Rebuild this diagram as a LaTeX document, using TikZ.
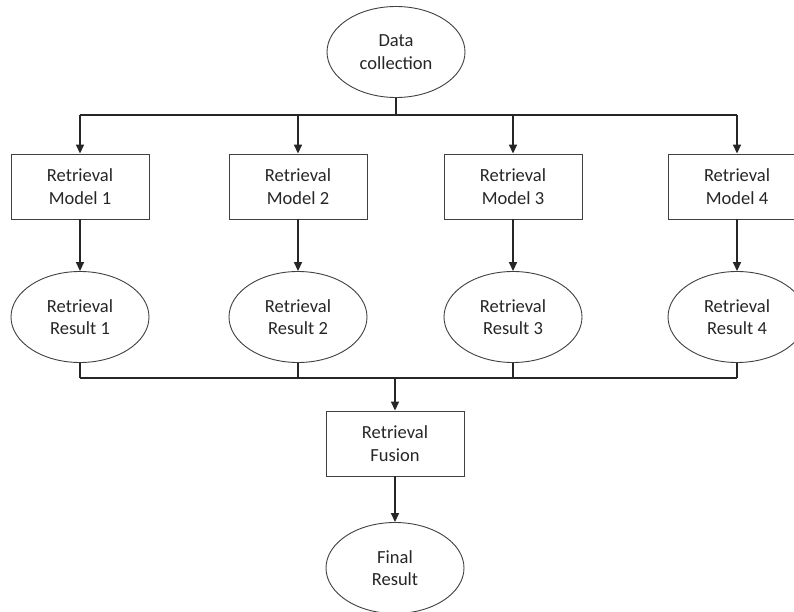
\documentclass[tikz,border=0pt]{standalone}
\usepackage{fontspec}
\setmainfont{Carlito}
\usetikzlibrary{arrows.meta,shapes.geometric}
\tikzset{
  bx/.style={align=center, font=\fontsize{18.5}{22.5}\selectfont, inner sep=0pt, text=black!85},
  box/.style={bx, draw=black!75, line width=0.9pt, fill=white, minimum width=138pt, minimum height=65pt},
  oval/.style={bx, ellipse, draw=black!75, line width=0.9pt, fill=white, minimum width=138pt, minimum height=91pt},
  ln/.style={line width=1.6pt, color=black!85},
  arr/.style={ln, -{Triangle[length=9pt,width=8pt]}},
}
\begin{document}
\begin{tikzpicture}[x=1pt,y=-1pt]
  \useasboundingbox (0,0) rectangle (794,612);
  \node[oval] (dc) at (396,52) {Data\\collection};
  \coordinate (top) at (396,115);
  \coordinate (bot) at (396,378);
  \node[box] (fus) at (395,443.5) {Retrieval\\Fusion};
  \node[oval] (fin) at (395,568) {Final\\Result};
  \foreach \i/\x in {1/80,2/298,3/513,4/737} {
    \node[box] (m\i) at (\x,186.5) {Retrieval\\Model \i};
    \node[oval] (r\i) at (\x,317) {Retrieval\\Result \i};
    \draw[arr] (m\i |- top) -- (m\i.north);
    \draw[arr] (m\i) -- (r\i);
    \draw[ln] (r\i.south) -- (r\i |- bot);
  }
  % buses
  \draw[ln] (dc.south) -- (top);
  \draw[ln] (m1 |- top) -- (m4 |- top);
  \draw[ln] (r1 |- bot) -- (r4 |- bot);
  \draw[arr] (fus |- bot) -- (fus.north);
  \draw[arr] (fus) -- (fin);
\end{tikzpicture}
\end{document}
